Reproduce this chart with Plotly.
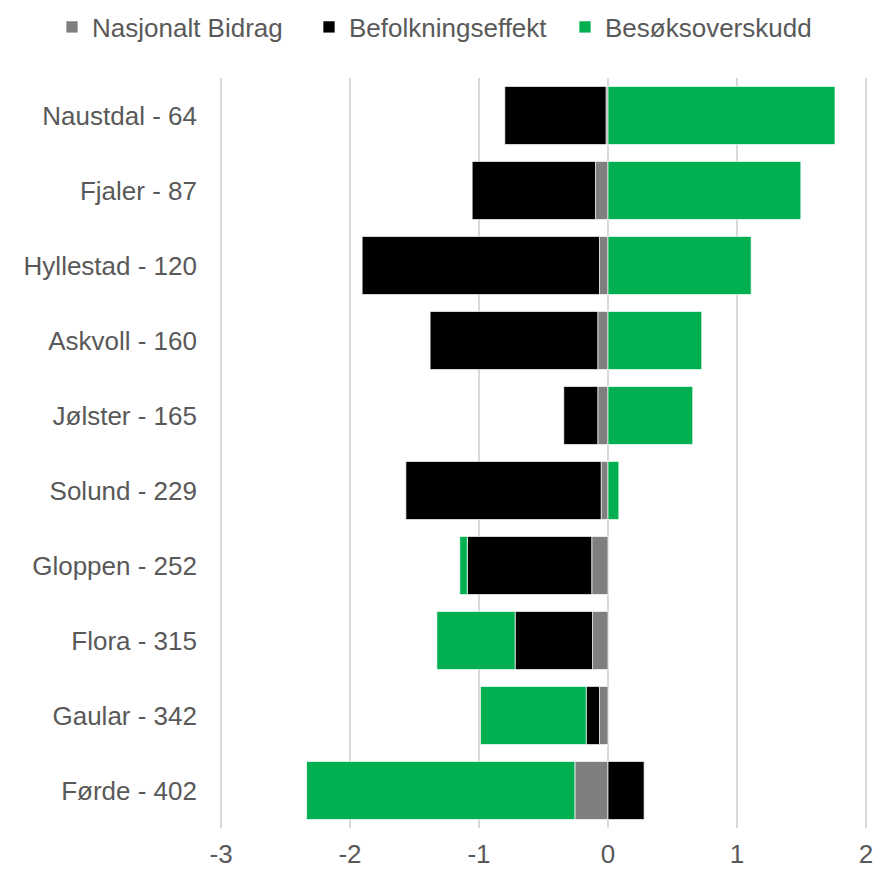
import plotly.graph_objects as go

categories = ["Naustdal - 64", "Fjaler - 87", "Hyllestad - 120", "Askvoll - 160", "Jølster - 165",
              "Solund - 229", "Gloppen - 252", "Flora - 315", "Gaular - 342", "Førde - 402"]
nasjonalt = [-0.015, -0.097, -0.066, -0.079, -0.079, -0.053, -0.126, -0.12, -0.066, -0.257]
befolkning = [-0.785, -0.956, -1.84, -1.30, -0.264, -1.514, -0.965, -0.60, -0.103, 0.28]
besok = [1.76, 1.495, 1.11, 0.727, 0.657, 0.084, -0.058, -0.607, -0.82, -2.08]
x_ticks = [-3, -2, -1, 0, 1, 2]
x_tick_labels = ["-3", "-2", "-1", "0", "1", "2"]

font = "Liberation Sans"
W, H = 877, 870
series = [("Nasjonalt Bidrag", nasjonalt, "#7f7f7f", "legend", 52),
          ("Befolkningseffekt", befolkning, "#000000", "legend2", 309),
          ("Besøksoverskudd", besok, "#00b050", "legend3", 565)]

fig = go.Figure()
legends = {}
for name, vals, col, lg, lx in series:
    fig.add_trace(go.Bar(y=categories, x=vals, name=name, orientation="h", legend=lg,
                         marker=dict(color=col, line=dict(color="#ffffff", width=0.7))))
    legends[lg] = dict(orientation="h", xref="container", yref="container",
                       x=lx / W, xanchor="left", y=1 - 27 / H, yanchor="middle",
                       font=dict(family=font, size=26, color="#595959"),
                       bgcolor="rgba(0,0,0,0)", borderwidth=0, itemwidth=30)

fig.update_layout(
    barmode="relative",
    bargap=0.225,
    width=W, height=H,
    margin=dict(l=220, r=10, t=78, b=42, autoexpand=False),
    plot_bgcolor="white", paper_bgcolor="white",
    font=dict(family=font, size=26, color="#595959"),
    showlegend=True,
    **legends,
)
fig.update_xaxes(range=[-3.008, 2.008], tickvals=x_ticks, ticktext=x_tick_labels,
                 showgrid=True, gridcolor="#d9d9d9", gridwidth=2,
                 zeroline=False, showline=False, automargin=False,
                 tickfont=dict(family=font, size=26, color="#595959"), ticklabelstandoff=8)
fig.update_yaxes(autorange="reversed", showgrid=False, showline=False, automargin=False,
                 tickfont=dict(family=font, size=26, color="#595959"), ticklabelstandoff=22)

fig.write_html("out.html", config={"displayModeBar": False},
               post_script="document.body.style.margin='0';document.body.style.overflow='hidden';")
